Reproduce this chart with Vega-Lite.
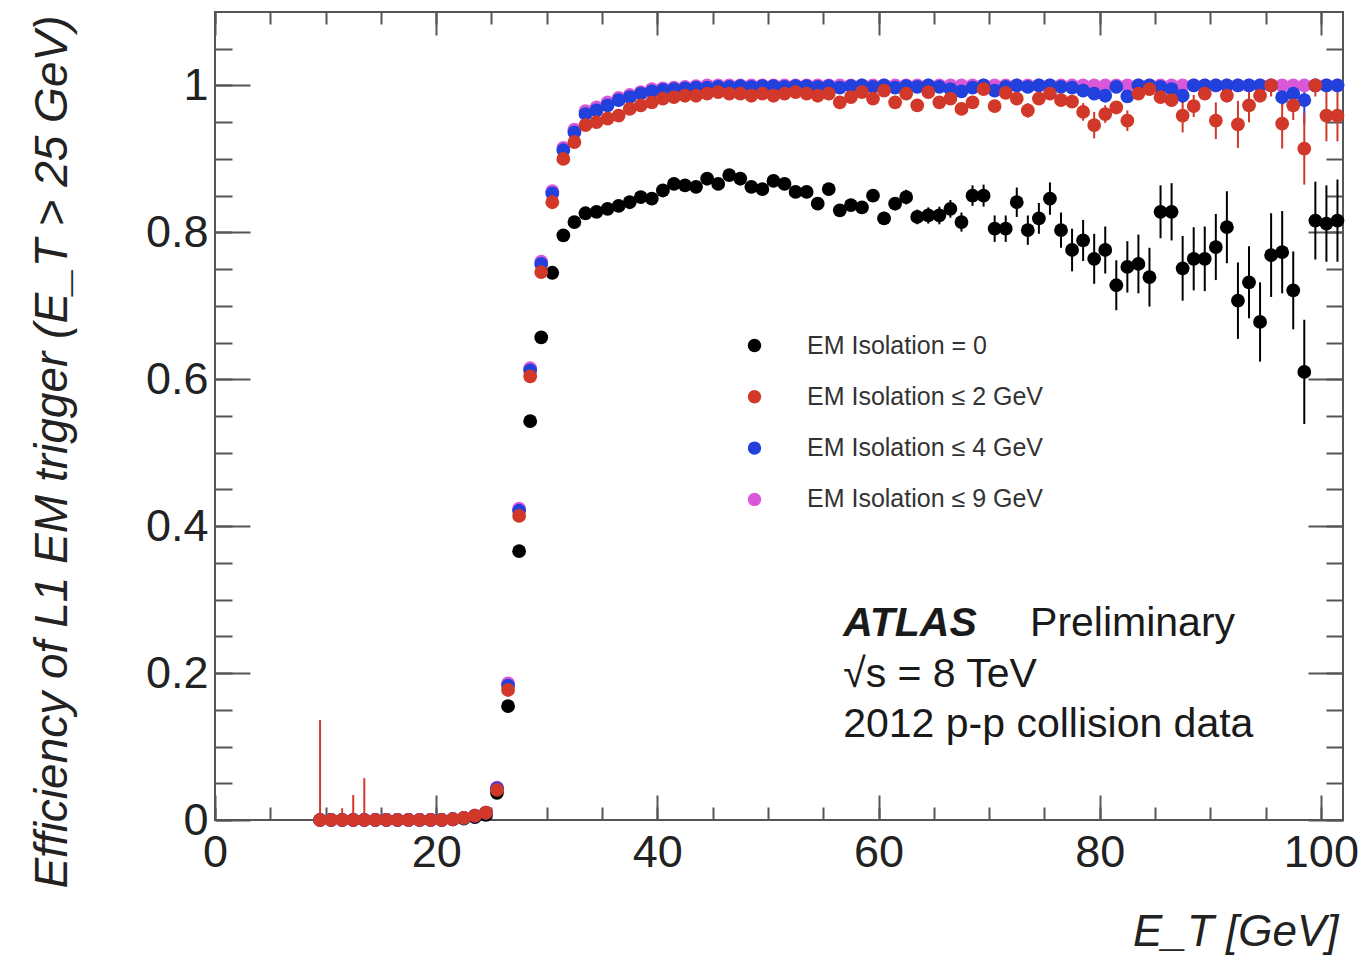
{
"$schema": "https://vega.github.io/schema/vega-lite/v6.json",
"width": 1128,
"height": 808,
"autosize": {"type": "none"},
"padding": {"left": 215, "top": 12, "right": 24, "bottom": 140},
"background": "white",
"config": {
  "view": {"stroke": "#555", "strokeWidth": 2},
  "axis": {"domain": false, "grid": false, "tickColor": "#555", "tickWidth": 2, "labelFont": "Liberation Sans", "labelFontSize": 45, "labelColor": "#222", "labelFlush": false, "labelOverlap": false, "titleFont": "Liberation Sans", "titleColor": "#222", "titleFontWeight": "normal", "titleFontStyle": "italic", "titleFontSize": 46}
},
"datasets": {
"pts": [
{"E":9.5,"eff":0,"s":"EM Isolation = 0"},{"E":10.5,"eff":0,"s":"EM Isolation = 0"},{"E":11.5,"eff":0,"s":"EM Isolation = 0"},{"E":12.5,"eff":0,"s":"EM Isolation = 0"},{"E":13.5,"eff":0,"s":"EM Isolation = 0"},{"E":14.5,"eff":0,"s":"EM Isolation = 0"},{"E":15.5,"eff":0,"s":"EM Isolation = 0"},{"E":16.5,"eff":0,"s":"EM Isolation = 0"},{"E":17.5,"eff":0,"s":"EM Isolation = 0"},{"E":18.5,"eff":0,"s":"EM Isolation = 0"},{"E":19.5,"eff":0,"s":"EM Isolation = 0"},{"E":20.5,"eff":0,"s":"EM Isolation = 0"},{"E":21.5,"eff":0.001,"s":"EM Isolation = 0"},{"E":22.5,"eff":0.002,"s":"EM Isolation = 0"},{"E":23.5,"eff":0.004,"s":"EM Isolation = 0"},{"E":24.5,"eff":0.007,"s":"EM Isolation = 0"},{"E":25.5,"eff":0.037,"s":"EM Isolation = 0"},{"E":26.5,"eff":0.155,"s":"EM Isolation = 0"},{"E":27.5,"eff":0.366,"s":"EM Isolation = 0"},{"E":28.5,"eff":0.543,"s":"EM Isolation = 0"},{"E":29.5,"eff":0.657,"s":"EM Isolation = 0"},{"E":30.5,"eff":0.745,"s":"EM Isolation = 0"},{"E":31.5,"eff":0.796,"s":"EM Isolation = 0"},{"E":32.5,"eff":0.814,"s":"EM Isolation = 0"},{"E":33.5,"eff":0.826,"s":"EM Isolation = 0"},{"E":34.5,"eff":0.828,"s":"EM Isolation = 0"},{"E":35.5,"eff":0.832,"s":"EM Isolation = 0"},{"E":36.5,"eff":0.836,"s":"EM Isolation = 0"},{"E":37.5,"eff":0.841,"s":"EM Isolation = 0"},{"E":38.5,"eff":0.848,"s":"EM Isolation = 0"},{"E":39.5,"eff":0.846,"s":"EM Isolation = 0"},{"E":40.5,"eff":0.857,"s":"EM Isolation = 0"},{"E":41.5,"eff":0.866,"s":"EM Isolation = 0"},{"E":42.5,"eff":0.864,"s":"EM Isolation = 0"},{"E":43.5,"eff":0.862,"s":"EM Isolation = 0"},{"E":44.5,"eff":0.873,"s":"EM Isolation = 0"},{"E":45.5,"eff":0.866,"s":"EM Isolation = 0"},{"E":46.5,"eff":0.878,"s":"EM Isolation = 0"},{"E":47.5,"eff":0.873,"s":"EM Isolation = 0"},{"E":48.5,"eff":0.862,"s":"EM Isolation = 0"},{"E":49.5,"eff":0.859,"s":"EM Isolation = 0"},{"E":50.5,"eff":0.87,"s":"EM Isolation = 0"},{"E":51.5,"eff":0.866,"s":"EM Isolation = 0"},{"E":52.5,"eff":0.855,"s":"EM Isolation = 0"},{"E":53.5,"eff":0.855,"s":"EM Isolation = 0"},{"E":54.5,"eff":0.839,"s":"EM Isolation = 0"},{"E":55.5,"eff":0.859,"s":"EM Isolation = 0"},{"E":56.5,"eff":0.83,"s":"EM Isolation = 0"},{"E":57.5,"eff":0.837,"s":"EM Isolation = 0"},{"E":58.5,"eff":0.834,"s":"EM Isolation = 0"},{"E":59.5,"eff":0.85,"s":"EM Isolation = 0"},{"E":60.5,"eff":0.819,"s":"EM Isolation = 0"},{"E":61.5,"eff":0.839,"s":"EM Isolation = 0"},{"E":62.5,"eff":0.848,"s":"EM Isolation = 0"},{"E":63.5,"eff":0.821,"s":"EM Isolation = 0"},{"E":64.5,"eff":0.823,"s":"EM Isolation = 0"},{"E":65.5,"eff":0.823,"s":"EM Isolation = 0"},{"E":66.5,"eff":0.832,"s":"EM Isolation = 0"},{"E":67.5,"eff":0.814,"s":"EM Isolation = 0"},{"E":68.5,"eff":0.85,"s":"EM Isolation = 0"},{"E":69.5,"eff":0.85,"s":"EM Isolation = 0"},{"E":70.5,"eff":0.805,"s":"EM Isolation = 0"},{"E":71.5,"eff":0.805,"s":"EM Isolation = 0"},{"E":72.5,"eff":0.841,"s":"EM Isolation = 0"},{"E":73.5,"eff":0.803,"s":"EM Isolation = 0"},{"E":74.5,"eff":0.819,"s":"EM Isolation = 0"},{"E":75.5,"eff":0.846,"s":"EM Isolation = 0"},{"E":76.5,"eff":0.803,"s":"EM Isolation = 0"},{"E":77.5,"eff":0.776,"s":"EM Isolation = 0"},{"E":78.5,"eff":0.789,"s":"EM Isolation = 0"},{"E":79.5,"eff":0.764,"s":"EM Isolation = 0"},{"E":80.5,"eff":0.776,"s":"EM Isolation = 0"},{"E":81.5,"eff":0.728,"s":"EM Isolation = 0"},{"E":82.5,"eff":0.753,"s":"EM Isolation = 0"},{"E":83.5,"eff":0.757,"s":"EM Isolation = 0"},{"E":84.5,"eff":0.739,"s":"EM Isolation = 0"},{"E":85.5,"eff":0.828,"s":"EM Isolation = 0"},{"E":86.5,"eff":0.828,"s":"EM Isolation = 0"},{"E":87.5,"eff":0.751,"s":"EM Isolation = 0"},{"E":88.5,"eff":0.764,"s":"EM Isolation = 0"},{"E":89.5,"eff":0.764,"s":"EM Isolation = 0"},{"E":90.5,"eff":0.78,"s":"EM Isolation = 0"},{"E":91.5,"eff":0.807,"s":"EM Isolation = 0"},{"E":92.5,"eff":0.707,"s":"EM Isolation = 0"},{"E":93.5,"eff":0.732,"s":"EM Isolation = 0"},{"E":94.5,"eff":0.678,"s":"EM Isolation = 0"},{"E":95.5,"eff":0.769,"s":"EM Isolation = 0"},{"E":96.5,"eff":0.773,"s":"EM Isolation = 0"},{"E":97.5,"eff":0.721,"s":"EM Isolation = 0"},{"E":98.5,"eff":0.61,"s":"EM Isolation = 0"},{"E":99.5,"eff":0.816,"s":"EM Isolation = 0"},{"E":100.5,"eff":0.812,"s":"EM Isolation = 0"},{"E":101.5,"eff":0.816,"s":"EM Isolation = 0"},
{"E":9.5,"eff":0,"s":"EM Isolation ≤ 9 GeV"},{"E":10.5,"eff":0,"s":"EM Isolation ≤ 9 GeV"},{"E":11.5,"eff":0,"s":"EM Isolation ≤ 9 GeV"},{"E":12.5,"eff":0,"s":"EM Isolation ≤ 9 GeV"},{"E":13.5,"eff":0,"s":"EM Isolation ≤ 9 GeV"},{"E":14.5,"eff":0,"s":"EM Isolation ≤ 9 GeV"},{"E":15.5,"eff":0,"s":"EM Isolation ≤ 9 GeV"},{"E":16.5,"eff":0,"s":"EM Isolation ≤ 9 GeV"},{"E":17.5,"eff":0,"s":"EM Isolation ≤ 9 GeV"},{"E":18.5,"eff":0,"s":"EM Isolation ≤ 9 GeV"},{"E":19.5,"eff":0,"s":"EM Isolation ≤ 9 GeV"},{"E":20.5,"eff":0,"s":"EM Isolation ≤ 9 GeV"},{"E":21.5,"eff":0.001,"s":"EM Isolation ≤ 9 GeV"},{"E":22.5,"eff":0.003,"s":"EM Isolation ≤ 9 GeV"},{"E":23.5,"eff":0.006,"s":"EM Isolation ≤ 9 GeV"},{"E":24.5,"eff":0.01,"s":"EM Isolation ≤ 9 GeV"},{"E":25.5,"eff":0.044,"s":"EM Isolation ≤ 9 GeV"},{"E":26.5,"eff":0.186,"s":"EM Isolation ≤ 9 GeV"},{"E":27.5,"eff":0.424,"s":"EM Isolation ≤ 9 GeV"},{"E":28.5,"eff":0.615,"s":"EM Isolation ≤ 9 GeV"},{"E":29.5,"eff":0.76,"s":"EM Isolation ≤ 9 GeV"},{"E":30.5,"eff":0.856,"s":"EM Isolation ≤ 9 GeV"},{"E":31.5,"eff":0.915,"s":"EM Isolation ≤ 9 GeV"},{"E":32.5,"eff":0.94,"s":"EM Isolation ≤ 9 GeV"},{"E":33.5,"eff":0.965,"s":"EM Isolation ≤ 9 GeV"},{"E":34.5,"eff":0.97,"s":"EM Isolation ≤ 9 GeV"},{"E":35.5,"eff":0.977,"s":"EM Isolation ≤ 9 GeV"},{"E":36.5,"eff":0.983,"s":"EM Isolation ≤ 9 GeV"},{"E":37.5,"eff":0.987,"s":"EM Isolation ≤ 9 GeV"},{"E":38.5,"eff":0.991,"s":"EM Isolation ≤ 9 GeV"},{"E":39.5,"eff":0.995,"s":"EM Isolation ≤ 9 GeV"},{"E":40.5,"eff":0.996,"s":"EM Isolation ≤ 9 GeV"},{"E":41.5,"eff":0.997,"s":"EM Isolation ≤ 9 GeV"},{"E":42.5,"eff":0.998,"s":"EM Isolation ≤ 9 GeV"},{"E":43.5,"eff":0.999,"s":"EM Isolation ≤ 9 GeV"},{"E":44.5,"eff":1,"s":"EM Isolation ≤ 9 GeV"},{"E":45.5,"eff":1,"s":"EM Isolation ≤ 9 GeV"},{"E":46.5,"eff":1,"s":"EM Isolation ≤ 9 GeV"},{"E":47.5,"eff":1,"s":"EM Isolation ≤ 9 GeV"},{"E":48.5,"eff":1,"s":"EM Isolation ≤ 9 GeV"},{"E":49.5,"eff":1,"s":"EM Isolation ≤ 9 GeV"},{"E":50.5,"eff":1,"s":"EM Isolation ≤ 9 GeV"},{"E":51.5,"eff":1,"s":"EM Isolation ≤ 9 GeV"},{"E":52.5,"eff":1,"s":"EM Isolation ≤ 9 GeV"},{"E":53.5,"eff":1,"s":"EM Isolation ≤ 9 GeV"},{"E":54.5,"eff":1,"s":"EM Isolation ≤ 9 GeV"},{"E":55.5,"eff":1,"s":"EM Isolation ≤ 9 GeV"},{"E":56.5,"eff":1,"s":"EM Isolation ≤ 9 GeV"},{"E":57.5,"eff":1,"s":"EM Isolation ≤ 9 GeV"},{"E":58.5,"eff":1,"s":"EM Isolation ≤ 9 GeV"},{"E":59.5,"eff":1,"s":"EM Isolation ≤ 9 GeV"},{"E":60.5,"eff":1,"s":"EM Isolation ≤ 9 GeV"},{"E":61.5,"eff":1,"s":"EM Isolation ≤ 9 GeV"},{"E":62.5,"eff":1,"s":"EM Isolation ≤ 9 GeV"},{"E":63.5,"eff":1,"s":"EM Isolation ≤ 9 GeV"},{"E":64.5,"eff":1,"s":"EM Isolation ≤ 9 GeV"},{"E":65.5,"eff":1,"s":"EM Isolation ≤ 9 GeV"},{"E":66.5,"eff":1,"s":"EM Isolation ≤ 9 GeV"},{"E":67.5,"eff":1,"s":"EM Isolation ≤ 9 GeV"},{"E":68.5,"eff":1,"s":"EM Isolation ≤ 9 GeV"},{"E":69.5,"eff":1,"s":"EM Isolation ≤ 9 GeV"},{"E":70.5,"eff":1,"s":"EM Isolation ≤ 9 GeV"},{"E":71.5,"eff":1,"s":"EM Isolation ≤ 9 GeV"},{"E":72.5,"eff":1,"s":"EM Isolation ≤ 9 GeV"},{"E":73.5,"eff":1,"s":"EM Isolation ≤ 9 GeV"},{"E":74.5,"eff":1,"s":"EM Isolation ≤ 9 GeV"},{"E":75.5,"eff":1,"s":"EM Isolation ≤ 9 GeV"},{"E":76.5,"eff":1,"s":"EM Isolation ≤ 9 GeV"},{"E":77.5,"eff":1,"s":"EM Isolation ≤ 9 GeV"},{"E":78.5,"eff":1,"s":"EM Isolation ≤ 9 GeV"},{"E":79.5,"eff":1,"s":"EM Isolation ≤ 9 GeV"},{"E":80.5,"eff":1,"s":"EM Isolation ≤ 9 GeV"},{"E":81.5,"eff":1,"s":"EM Isolation ≤ 9 GeV"},{"E":82.5,"eff":1,"s":"EM Isolation ≤ 9 GeV"},{"E":83.5,"eff":1,"s":"EM Isolation ≤ 9 GeV"},{"E":84.5,"eff":1,"s":"EM Isolation ≤ 9 GeV"},{"E":85.5,"eff":1,"s":"EM Isolation ≤ 9 GeV"},{"E":86.5,"eff":1,"s":"EM Isolation ≤ 9 GeV"},{"E":87.5,"eff":1,"s":"EM Isolation ≤ 9 GeV"},{"E":88.5,"eff":1,"s":"EM Isolation ≤ 9 GeV"},{"E":89.5,"eff":1,"s":"EM Isolation ≤ 9 GeV"},{"E":90.5,"eff":1,"s":"EM Isolation ≤ 9 GeV"},{"E":91.5,"eff":1,"s":"EM Isolation ≤ 9 GeV"},{"E":92.5,"eff":1,"s":"EM Isolation ≤ 9 GeV"},{"E":93.5,"eff":1,"s":"EM Isolation ≤ 9 GeV"},{"E":94.5,"eff":1,"s":"EM Isolation ≤ 9 GeV"},{"E":95.5,"eff":1,"s":"EM Isolation ≤ 9 GeV"},{"E":96.5,"eff":1,"s":"EM Isolation ≤ 9 GeV"},{"E":97.5,"eff":1,"s":"EM Isolation ≤ 9 GeV"},{"E":98.5,"eff":1,"s":"EM Isolation ≤ 9 GeV"},{"E":99.5,"eff":1,"s":"EM Isolation ≤ 9 GeV"},{"E":100.5,"eff":1,"s":"EM Isolation ≤ 9 GeV"},{"E":101.5,"eff":1,"s":"EM Isolation ≤ 9 GeV"},
{"E":9.5,"eff":0,"s":"EM Isolation ≤ 4 GeV"},{"E":10.5,"eff":0,"s":"EM Isolation ≤ 4 GeV"},{"E":11.5,"eff":0,"s":"EM Isolation ≤ 4 GeV"},{"E":12.5,"eff":0,"s":"EM Isolation ≤ 4 GeV"},{"E":13.5,"eff":0,"s":"EM Isolation ≤ 4 GeV"},{"E":14.5,"eff":0,"s":"EM Isolation ≤ 4 GeV"},{"E":15.5,"eff":0,"s":"EM Isolation ≤ 4 GeV"},{"E":16.5,"eff":0,"s":"EM Isolation ≤ 4 GeV"},{"E":17.5,"eff":0,"s":"EM Isolation ≤ 4 GeV"},{"E":18.5,"eff":0,"s":"EM Isolation ≤ 4 GeV"},{"E":19.5,"eff":0,"s":"EM Isolation ≤ 4 GeV"},{"E":20.5,"eff":0,"s":"EM Isolation ≤ 4 GeV"},{"E":21.5,"eff":0.001,"s":"EM Isolation ≤ 4 GeV"},{"E":22.5,"eff":0.003,"s":"EM Isolation ≤ 4 GeV"},{"E":23.5,"eff":0.006,"s":"EM Isolation ≤ 4 GeV"},{"E":24.5,"eff":0.01,"s":"EM Isolation ≤ 4 GeV"},{"E":25.5,"eff":0.043,"s":"EM Isolation ≤ 4 GeV"},{"E":26.5,"eff":0.183,"s":"EM Isolation ≤ 4 GeV"},{"E":27.5,"eff":0.421,"s":"EM Isolation ≤ 4 GeV"},{"E":28.5,"eff":0.612,"s":"EM Isolation ≤ 4 GeV"},{"E":29.5,"eff":0.757,"s":"EM Isolation ≤ 4 GeV"},{"E":30.5,"eff":0.853,"s":"EM Isolation ≤ 4 GeV"},{"E":31.5,"eff":0.912,"s":"EM Isolation ≤ 4 GeV"},{"E":32.5,"eff":0.936,"s":"EM Isolation ≤ 4 GeV"},{"E":33.5,"eff":0.961,"s":"EM Isolation ≤ 4 GeV"},{"E":34.5,"eff":0.966,"s":"EM Isolation ≤ 4 GeV"},{"E":35.5,"eff":0.973,"s":"EM Isolation ≤ 4 GeV"},{"E":36.5,"eff":0.98,"s":"EM Isolation ≤ 4 GeV"},{"E":37.5,"eff":0.984,"s":"EM Isolation ≤ 4 GeV"},{"E":38.5,"eff":0.989,"s":"EM Isolation ≤ 4 GeV"},{"E":39.5,"eff":0.992,"s":"EM Isolation ≤ 4 GeV"},{"E":40.5,"eff":0.994,"s":"EM Isolation ≤ 4 GeV"},{"E":41.5,"eff":0.995,"s":"EM Isolation ≤ 4 GeV"},{"E":42.5,"eff":0.996,"s":"EM Isolation ≤ 4 GeV"},{"E":43.5,"eff":0.997,"s":"EM Isolation ≤ 4 GeV"},{"E":44.5,"eff":0.997,"s":"EM Isolation ≤ 4 GeV"},{"E":45.5,"eff":0.998,"s":"EM Isolation ≤ 4 GeV"},{"E":46.5,"eff":0.998,"s":"EM Isolation ≤ 4 GeV"},{"E":47.5,"eff":0.999,"s":"EM Isolation ≤ 4 GeV"},{"E":48.5,"eff":0.998,"s":"EM Isolation ≤ 4 GeV"},{"E":49.5,"eff":0.999,"s":"EM Isolation ≤ 4 GeV"},{"E":50.5,"eff":0.999,"s":"EM Isolation ≤ 4 GeV"},{"E":51.5,"eff":0.998,"s":"EM Isolation ≤ 4 GeV"},{"E":52.5,"eff":0.999,"s":"EM Isolation ≤ 4 GeV"},{"E":53.5,"eff":0.999,"s":"EM Isolation ≤ 4 GeV"},{"E":54.5,"eff":0.998,"s":"EM Isolation ≤ 4 GeV"},{"E":55.5,"eff":0.999,"s":"EM Isolation ≤ 4 GeV"},{"E":56.5,"eff":0.997,"s":"EM Isolation ≤ 4 GeV"},{"E":57.5,"eff":0.999,"s":"EM Isolation ≤ 4 GeV"},{"E":58.5,"eff":1,"s":"EM Isolation ≤ 4 GeV"},{"E":59.5,"eff":0.998,"s":"EM Isolation ≤ 4 GeV"},{"E":60.5,"eff":1,"s":"EM Isolation ≤ 4 GeV"},{"E":61.5,"eff":0.997,"s":"EM Isolation ≤ 4 GeV"},{"E":62.5,"eff":0.999,"s":"EM Isolation ≤ 4 GeV"},{"E":63.5,"eff":0.998,"s":"EM Isolation ≤ 4 GeV"},{"E":64.5,"eff":1,"s":"EM Isolation ≤ 4 GeV"},{"E":65.5,"eff":0.998,"s":"EM Isolation ≤ 4 GeV"},{"E":66.5,"eff":0.995,"s":"EM Isolation ≤ 4 GeV"},{"E":67.5,"eff":0.992,"s":"EM Isolation ≤ 4 GeV"},{"E":68.5,"eff":0.997,"s":"EM Isolation ≤ 4 GeV"},{"E":69.5,"eff":1,"s":"EM Isolation ≤ 4 GeV"},{"E":70.5,"eff":0.993,"s":"EM Isolation ≤ 4 GeV"},{"E":71.5,"eff":0.998,"s":"EM Isolation ≤ 4 GeV"},{"E":72.5,"eff":1,"s":"EM Isolation ≤ 4 GeV"},{"E":73.5,"eff":0.998,"s":"EM Isolation ≤ 4 GeV"},{"E":74.5,"eff":1,"s":"EM Isolation ≤ 4 GeV"},{"E":75.5,"eff":1,"s":"EM Isolation ≤ 4 GeV"},{"E":76.5,"eff":0.998,"s":"EM Isolation ≤ 4 GeV"},{"E":77.5,"eff":0.997,"s":"EM Isolation ≤ 4 GeV"},{"E":78.5,"eff":0.993,"s":"EM Isolation ≤ 4 GeV"},{"E":79.5,"eff":0.989,"s":"EM Isolation ≤ 4 GeV"},{"E":80.5,"eff":0.986,"s":"EM Isolation ≤ 4 GeV"},{"E":81.5,"eff":0.998,"s":"EM Isolation ≤ 4 GeV"},{"E":82.5,"eff":0.985,"s":"EM Isolation ≤ 4 GeV"},{"E":83.5,"eff":1,"s":"EM Isolation ≤ 4 GeV"},{"E":84.5,"eff":1,"s":"EM Isolation ≤ 4 GeV"},{"E":85.5,"eff":0.998,"s":"EM Isolation ≤ 4 GeV"},{"E":86.5,"eff":0.995,"s":"EM Isolation ≤ 4 GeV"},{"E":87.5,"eff":0.986,"s":"EM Isolation ≤ 4 GeV"},{"E":88.5,"eff":1,"s":"EM Isolation ≤ 4 GeV"},{"E":89.5,"eff":1,"s":"EM Isolation ≤ 4 GeV"},{"E":90.5,"eff":1,"s":"EM Isolation ≤ 4 GeV"},{"E":91.5,"eff":1,"s":"EM Isolation ≤ 4 GeV"},{"E":92.5,"eff":1,"s":"EM Isolation ≤ 4 GeV"},{"E":93.5,"eff":1,"s":"EM Isolation ≤ 4 GeV"},{"E":94.5,"eff":1,"s":"EM Isolation ≤ 4 GeV"},{"E":95.5,"eff":1,"s":"EM Isolation ≤ 4 GeV"},{"E":96.5,"eff":0.984,"s":"EM Isolation ≤ 4 GeV"},{"E":97.5,"eff":0.989,"s":"EM Isolation ≤ 4 GeV"},{"E":98.5,"eff":0.98,"s":"EM Isolation ≤ 4 GeV"},{"E":99.5,"eff":1,"s":"EM Isolation ≤ 4 GeV"},{"E":100.5,"eff":1,"s":"EM Isolation ≤ 4 GeV"},{"E":101.5,"eff":1,"s":"EM Isolation ≤ 4 GeV"},
{"E":9.5,"eff":0,"s":"EM Isolation ≤ 2 GeV"},{"E":10.5,"eff":0,"s":"EM Isolation ≤ 2 GeV"},{"E":11.5,"eff":0,"s":"EM Isolation ≤ 2 GeV"},{"E":12.5,"eff":0,"s":"EM Isolation ≤ 2 GeV"},{"E":13.5,"eff":0,"s":"EM Isolation ≤ 2 GeV"},{"E":14.5,"eff":0,"s":"EM Isolation ≤ 2 GeV"},{"E":15.5,"eff":0,"s":"EM Isolation ≤ 2 GeV"},{"E":16.5,"eff":0,"s":"EM Isolation ≤ 2 GeV"},{"E":17.5,"eff":0,"s":"EM Isolation ≤ 2 GeV"},{"E":18.5,"eff":0,"s":"EM Isolation ≤ 2 GeV"},{"E":19.5,"eff":0,"s":"EM Isolation ≤ 2 GeV"},{"E":20.5,"eff":0,"s":"EM Isolation ≤ 2 GeV"},{"E":21.5,"eff":0.001,"s":"EM Isolation ≤ 2 GeV"},{"E":22.5,"eff":0.003,"s":"EM Isolation ≤ 2 GeV"},{"E":23.5,"eff":0.006,"s":"EM Isolation ≤ 2 GeV"},{"E":24.5,"eff":0.01,"s":"EM Isolation ≤ 2 GeV"},{"E":25.5,"eff":0.041,"s":"EM Isolation ≤ 2 GeV"},{"E":26.5,"eff":0.177,"s":"EM Isolation ≤ 2 GeV"},{"E":27.5,"eff":0.414,"s":"EM Isolation ≤ 2 GeV"},{"E":28.5,"eff":0.604,"s":"EM Isolation ≤ 2 GeV"},{"E":29.5,"eff":0.746,"s":"EM Isolation ≤ 2 GeV"},{"E":30.5,"eff":0.841,"s":"EM Isolation ≤ 2 GeV"},{"E":31.5,"eff":0.9,"s":"EM Isolation ≤ 2 GeV"},{"E":32.5,"eff":0.923,"s":"EM Isolation ≤ 2 GeV"},{"E":33.5,"eff":0.946,"s":"EM Isolation ≤ 2 GeV"},{"E":34.5,"eff":0.95,"s":"EM Isolation ≤ 2 GeV"},{"E":35.5,"eff":0.955,"s":"EM Isolation ≤ 2 GeV"},{"E":36.5,"eff":0.959,"s":"EM Isolation ≤ 2 GeV"},{"E":37.5,"eff":0.968,"s":"EM Isolation ≤ 2 GeV"},{"E":38.5,"eff":0.973,"s":"EM Isolation ≤ 2 GeV"},{"E":39.5,"eff":0.977,"s":"EM Isolation ≤ 2 GeV"},{"E":40.5,"eff":0.982,"s":"EM Isolation ≤ 2 GeV"},{"E":41.5,"eff":0.984,"s":"EM Isolation ≤ 2 GeV"},{"E":42.5,"eff":0.986,"s":"EM Isolation ≤ 2 GeV"},{"E":43.5,"eff":0.986,"s":"EM Isolation ≤ 2 GeV"},{"E":44.5,"eff":0.989,"s":"EM Isolation ≤ 2 GeV"},{"E":45.5,"eff":0.991,"s":"EM Isolation ≤ 2 GeV"},{"E":46.5,"eff":0.989,"s":"EM Isolation ≤ 2 GeV"},{"E":47.5,"eff":0.989,"s":"EM Isolation ≤ 2 GeV"},{"E":48.5,"eff":0.986,"s":"EM Isolation ≤ 2 GeV"},{"E":49.5,"eff":0.989,"s":"EM Isolation ≤ 2 GeV"},{"E":50.5,"eff":0.986,"s":"EM Isolation ≤ 2 GeV"},{"E":51.5,"eff":0.989,"s":"EM Isolation ≤ 2 GeV"},{"E":52.5,"eff":0.991,"s":"EM Isolation ≤ 2 GeV"},{"E":53.5,"eff":0.989,"s":"EM Isolation ≤ 2 GeV"},{"E":54.5,"eff":0.986,"s":"EM Isolation ≤ 2 GeV"},{"E":55.5,"eff":0.989,"s":"EM Isolation ≤ 2 GeV"},{"E":56.5,"eff":0.977,"s":"EM Isolation ≤ 2 GeV"},{"E":57.5,"eff":0.984,"s":"EM Isolation ≤ 2 GeV"},{"E":58.5,"eff":0.991,"s":"EM Isolation ≤ 2 GeV"},{"E":59.5,"eff":0.982,"s":"EM Isolation ≤ 2 GeV"},{"E":60.5,"eff":0.993,"s":"EM Isolation ≤ 2 GeV"},{"E":61.5,"eff":0.977,"s":"EM Isolation ≤ 2 GeV"},{"E":62.5,"eff":0.989,"s":"EM Isolation ≤ 2 GeV"},{"E":63.5,"eff":0.973,"s":"EM Isolation ≤ 2 GeV"},{"E":64.5,"eff":0.991,"s":"EM Isolation ≤ 2 GeV"},{"E":65.5,"eff":0.977,"s":"EM Isolation ≤ 2 GeV"},{"E":66.5,"eff":0.982,"s":"EM Isolation ≤ 2 GeV"},{"E":67.5,"eff":0.968,"s":"EM Isolation ≤ 2 GeV"},{"E":68.5,"eff":0.977,"s":"EM Isolation ≤ 2 GeV"},{"E":69.5,"eff":0.995,"s":"EM Isolation ≤ 2 GeV"},{"E":70.5,"eff":0.972,"s":"EM Isolation ≤ 2 GeV"},{"E":71.5,"eff":0.99,"s":"EM Isolation ≤ 2 GeV"},{"E":72.5,"eff":0.982,"s":"EM Isolation ≤ 2 GeV"},{"E":73.5,"eff":0.966,"s":"EM Isolation ≤ 2 GeV"},{"E":74.5,"eff":0.982,"s":"EM Isolation ≤ 2 GeV"},{"E":75.5,"eff":0.989,"s":"EM Isolation ≤ 2 GeV"},{"E":76.5,"eff":0.98,"s":"EM Isolation ≤ 2 GeV"},{"E":77.5,"eff":0.978,"s":"EM Isolation ≤ 2 GeV"},{"E":78.5,"eff":0.964,"s":"EM Isolation ≤ 2 GeV"},{"E":79.5,"eff":0.946,"s":"EM Isolation ≤ 2 GeV"},{"E":80.5,"eff":0.961,"s":"EM Isolation ≤ 2 GeV"},{"E":81.5,"eff":0.97,"s":"EM Isolation ≤ 2 GeV"},{"E":82.5,"eff":0.952,"s":"EM Isolation ≤ 2 GeV"},{"E":83.5,"eff":0.989,"s":"EM Isolation ≤ 2 GeV"},{"E":84.5,"eff":0.995,"s":"EM Isolation ≤ 2 GeV"},{"E":85.5,"eff":0.984,"s":"EM Isolation ≤ 2 GeV"},{"E":86.5,"eff":0.98,"s":"EM Isolation ≤ 2 GeV"},{"E":87.5,"eff":0.959,"s":"EM Isolation ≤ 2 GeV"},{"E":88.5,"eff":0.972,"s":"EM Isolation ≤ 2 GeV"},{"E":89.5,"eff":0.989,"s":"EM Isolation ≤ 2 GeV"},{"E":90.5,"eff":0.952,"s":"EM Isolation ≤ 2 GeV"},{"E":91.5,"eff":0.986,"s":"EM Isolation ≤ 2 GeV"},{"E":92.5,"eff":0.947,"s":"EM Isolation ≤ 2 GeV"},{"E":93.5,"eff":0.973,"s":"EM Isolation ≤ 2 GeV"},{"E":94.5,"eff":0.986,"s":"EM Isolation ≤ 2 GeV"},{"E":95.5,"eff":1,"s":"EM Isolation ≤ 2 GeV"},{"E":96.5,"eff":0.948,"s":"EM Isolation ≤ 2 GeV"},{"E":97.5,"eff":0.973,"s":"EM Isolation ≤ 2 GeV"},{"E":98.5,"eff":0.914,"s":"EM Isolation ≤ 2 GeV"},{"E":99.5,"eff":1,"s":"EM Isolation ≤ 2 GeV"},{"E":100.5,"eff":0.959,"s":"EM Isolation ≤ 2 GeV"},{"E":101.5,"eff":0.959,"s":"EM Isolation ≤ 2 GeV"}
],
"errs": [
{"E":60.5,"lo":0.81,"hi":0.828,"s":"EM Isolation = 0"},{"E":61.5,"lo":0.83,"hi":0.848,"s":"EM Isolation = 0"},{"E":62.5,"lo":0.838,"hi":0.858,"s":"EM Isolation = 0"},{"E":63.5,"lo":0.811,"hi":0.831,"s":"EM Isolation = 0"},{"E":64.5,"lo":0.812,"hi":0.834,"s":"EM Isolation = 0"},{"E":65.5,"lo":0.811,"hi":0.835,"s":"EM Isolation = 0"},{"E":66.5,"lo":0.82,"hi":0.844,"s":"EM Isolation = 0"},{"E":67.5,"lo":0.801,"hi":0.827,"s":"EM Isolation = 0"},{"E":68.5,"lo":0.836,"hi":0.864,"s":"EM Isolation = 0"},{"E":69.5,"lo":0.835,"hi":0.865,"s":"EM Isolation = 0"},{"E":70.5,"lo":0.787,"hi":0.823,"s":"EM Isolation = 0"},{"E":71.5,"lo":0.787,"hi":0.823,"s":"EM Isolation = 0"},{"E":72.5,"lo":0.821,"hi":0.861,"s":"EM Isolation = 0"},{"E":73.5,"lo":0.783,"hi":0.823,"s":"EM Isolation = 0"},{"E":74.5,"lo":0.798,"hi":0.84,"s":"EM Isolation = 0"},{"E":75.5,"lo":0.824,"hi":0.868,"s":"EM Isolation = 0"},{"E":76.5,"lo":0.779,"hi":0.827,"s":"EM Isolation = 0"},{"E":77.5,"lo":0.747,"hi":0.805,"s":"EM Isolation = 0"},{"E":78.5,"lo":0.761,"hi":0.817,"s":"EM Isolation = 0"},{"E":79.5,"lo":0.73,"hi":0.798,"s":"EM Isolation = 0"},{"E":80.5,"lo":0.744,"hi":0.808,"s":"EM Isolation = 0"},{"E":81.5,"lo":0.694,"hi":0.762,"s":"EM Isolation = 0"},{"E":82.5,"lo":0.718,"hi":0.788,"s":"EM Isolation = 0"},{"E":83.5,"lo":0.717,"hi":0.797,"s":"EM Isolation = 0"},{"E":84.5,"lo":0.699,"hi":0.779,"s":"EM Isolation = 0"},{"E":85.5,"lo":0.792,"hi":0.864,"s":"EM Isolation = 0"},{"E":86.5,"lo":0.789,"hi":0.867,"s":"EM Isolation = 0"},{"E":87.5,"lo":0.707,"hi":0.795,"s":"EM Isolation = 0"},{"E":88.5,"lo":0.721,"hi":0.807,"s":"EM Isolation = 0"},{"E":89.5,"lo":0.72,"hi":0.808,"s":"EM Isolation = 0"},{"E":90.5,"lo":0.735,"hi":0.825,"s":"EM Isolation = 0"},{"E":91.5,"lo":0.758,"hi":0.856,"s":"EM Isolation = 0"},{"E":92.5,"lo":0.655,"hi":0.759,"s":"EM Isolation = 0"},{"E":93.5,"lo":0.683,"hi":0.781,"s":"EM Isolation = 0"},{"E":94.5,"lo":0.624,"hi":0.732,"s":"EM Isolation = 0"},{"E":95.5,"lo":0.712,"hi":0.826,"s":"EM Isolation = 0"},{"E":96.5,"lo":0.717,"hi":0.829,"s":"EM Isolation = 0"},{"E":97.5,"lo":0.668,"hi":0.774,"s":"EM Isolation = 0"},{"E":98.5,"lo":0.539,"hi":0.681,"s":"EM Isolation = 0"},{"E":99.5,"lo":0.763,"hi":0.869,"s":"EM Isolation = 0"},{"E":100.5,"lo":0.76,"hi":0.864,"s":"EM Isolation = 0"},{"E":101.5,"lo":0.76,"hi":0.872,"s":"EM Isolation = 0"},
{"E":87.5,"lo":0.976,"hi":0.996,"s":"EM Isolation ≤ 4 GeV"},{"E":96.5,"lo":0.972,"hi":0.996,"s":"EM Isolation ≤ 4 GeV"},{"E":98.5,"lo":0.948,"hi":1,"s":"EM Isolation ≤ 4 GeV"},
{"E":9.5,"lo":0,"hi":0.136,"s":"EM Isolation ≤ 2 GeV"},{"E":11.5,"lo":0,"hi":0.016,"s":"EM Isolation ≤ 2 GeV"},{"E":12.5,"lo":0,"hi":0.034,"s":"EM Isolation ≤ 2 GeV"},{"E":13.5,"lo":0,"hi":0.057,"s":"EM Isolation ≤ 2 GeV"},{"E":73.5,"lo":0.956,"hi":0.976,"s":"EM Isolation ≤ 2 GeV"},{"E":78.5,"lo":0.952,"hi":0.976,"s":"EM Isolation ≤ 2 GeV"},{"E":79.5,"lo":0.928,"hi":0.964,"s":"EM Isolation ≤ 2 GeV"},{"E":80.5,"lo":0.949,"hi":0.973,"s":"EM Isolation ≤ 2 GeV"},{"E":82.5,"lo":0.938,"hi":0.966,"s":"EM Isolation ≤ 2 GeV"},{"E":87.5,"lo":0.936,"hi":0.982,"s":"EM Isolation ≤ 2 GeV"},{"E":88.5,"lo":0.957,"hi":0.987,"s":"EM Isolation ≤ 2 GeV"},{"E":90.5,"lo":0.927,"hi":0.977,"s":"EM Isolation ≤ 2 GeV"},{"E":92.5,"lo":0.915,"hi":0.979,"s":"EM Isolation ≤ 2 GeV"},{"E":93.5,"lo":0.95,"hi":0.996,"s":"EM Isolation ≤ 2 GeV"},{"E":95.5,"lo":0.985,"hi":1,"s":"EM Isolation ≤ 2 GeV"},{"E":96.5,"lo":0.914,"hi":0.982,"s":"EM Isolation ≤ 2 GeV"},{"E":97.5,"lo":0.953,"hi":0.993,"s":"EM Isolation ≤ 2 GeV"},{"E":98.5,"lo":0.865,"hi":0.963,"s":"EM Isolation ≤ 2 GeV"},{"E":99.5,"lo":0.985,"hi":1,"s":"EM Isolation ≤ 2 GeV"},{"E":100.5,"lo":0.924,"hi":0.994,"s":"EM Isolation ≤ 2 GeV"},{"E":101.5,"lo":0.924,"hi":0.994,"s":"EM Isolation ≤ 2 GeV"}
]
},
"layer": [
{
  "data": {"name": "errs"},
  "mark": {"type": "rule", "strokeWidth": 2},
  "encoding": {
    "x": {"field": "E", "type": "quantitative", "scale": {"domain": [0, 102], "nice": false, "zero": false},
      "axis": {"orient": "bottom", "values": [0, 20, 40, 60, 80, 100], "tickSize": -25, "labelPadding": 35, "title": "E_T [GeV]", "titleFontSize": 44, "titleAlign": "right", "titleAnchor": "end", "titleBaseline": "alphabetic", "titleX": 1123, "titleY": 125}},
    "y": {"field": "lo", "type": "quantitative", "scale": {"domain": [0, 1.1], "nice": false, "zero": false},
      "axis": {"orient": "left", "values": [0, 0.2, 0.4, 0.6, 0.8, 1], "format": "~g", "tickSize": -35, "labelPadding": 42, "title": "Efficiency of L1 EM trigger (E_T > 25 GeV)", "titleAngle": -90, "titleAlign": "right", "titleAnchor": "end", "titleBaseline": "alphabetic", "titleX": -149, "titleY": 3}},
    "y2": {"field": "hi"},
    "color": {"field": "s", "type": "nominal", "scale": {"domain": ["EM Isolation = 0", "EM Isolation ≤ 2 GeV", "EM Isolation ≤ 4 GeV", "EM Isolation ≤ 9 GeV"], "range": ["#000000", "#d2382a", "#2140dc", "#d957d9"]}, "legend": null}
  }
},
{
  "data": {"name": "pts"},
  "mark": {"type": "point", "filled": true, "size": 190, "opacity": 1, "strokeWidth": 0},
  "encoding": {
    "x": {"field": "E", "type": "quantitative", "scale": {"domain": [0, 102], "nice": false, "zero": false},
      "axis": {"orient": "bottom", "values": [0, 5, 10, 15, 20, 25, 30, 35, 40, 45, 50, 55, 60, 65, 70, 75, 80, 85, 90, 95, 100], "tickSize": -13, "labels": false, "title": null}},
    "y": {"field": "eff", "type": "quantitative", "scale": {"domain": [0, 1.1], "nice": false, "zero": false},
      "axis": {"orient": "left", "values": [0, 0.05, 0.1, 0.15, 0.2, 0.25, 0.3, 0.35, 0.4, 0.45, 0.5, 0.55, 0.6, 0.65, 0.7, 0.75, 0.8, 0.85, 0.9, 0.95, 1, 1.05], "tickSize": -17, "labels": false, "title": null}},
    "color": {"field": "s", "type": "nominal", "scale": {"domain": ["EM Isolation = 0", "EM Isolation ≤ 2 GeV", "EM Isolation ≤ 4 GeV", "EM Isolation ≤ 9 GeV"], "range": ["#000000", "#d2382a", "#2140dc", "#d957d9"]},
      "legend": {"title": null, "orient": "none", "legendX": 527, "legendY": 321, "padding": 0, "symbolType": "circle", "symbolSize": 180, "symbolStrokeWidth": 0, "symbolOpacity": 1, "labelOffset": 40, "rowPadding": 25.3, "labelFont": "Liberation Sans", "labelFontSize": 25, "labelColor": "#333", "labelLimit": 400}}
  }
},
{
  "data": {"name": "pts"},
  "transform": [{"filter": "false"}],
  "mark": "point",
  "encoding": {
    "x": {"field": "E", "type": "quantitative", "scale": {"domain": [0, 102], "nice": false, "zero": false},
      "axis": {"orient": "top", "values": [0, 20, 40, 60, 80, 100], "tickSize": -23, "labels": false, "title": null}},
    "y": {"field": "eff", "type": "quantitative", "scale": {"domain": [0, 1.1], "nice": false, "zero": false},
      "axis": {"orient": "right", "values": [0, 0.2, 0.4, 0.6, 0.8, 1], "tickSize": -35, "labels": false, "title": null}}
  }
},
{
  "data": {"name": "pts"},
  "transform": [{"filter": "false"}],
  "mark": "point",
  "encoding": {
    "x": {"field": "E", "type": "quantitative", "scale": {"domain": [0, 102], "nice": false, "zero": false},
      "axis": {"orient": "top", "values": [0, 5, 10, 15, 20, 25, 30, 35, 40, 45, 50, 55, 60, 65, 70, 75, 80, 85, 90, 95, 100], "tickSize": -12, "labels": false, "title": null}},
    "y": {"field": "eff", "type": "quantitative", "scale": {"domain": [0, 1.1], "nice": false, "zero": false},
      "axis": {"orient": "right", "values": [0, 0.05, 0.1, 0.15, 0.2, 0.25, 0.3, 0.35, 0.4, 0.45, 0.5, 0.55, 0.6, 0.65, 0.7, 0.75, 0.8, 0.85, 0.9, 0.95, 1, 1.05], "tickSize": -17, "labels": false, "title": null}}
  }
},
{
  "data": {"values": [{}]},
  "mark": {"type": "text", "text": "ATLAS", "font": "Liberation Sans", "fontSize": 41, "fontWeight": "bold", "fontStyle": "italic", "align": "left", "baseline": "alphabetic", "color": "#1a1a1a"},
  "encoding": {
    "x": {"datum": 56.8, "type": "quantitative", "scale": {"domain": [0, 102], "nice": false, "zero": false}, "axis": null},
    "y": {"datum": 0.2505, "type": "quantitative", "scale": {"domain": [0, 1.1], "nice": false, "zero": false}, "axis": null}
  }
},
{
  "data": {"values": [{}]},
  "mark": {"type": "text", "text": "Preliminary", "font": "Liberation Sans", "fontSize": 41, "align": "left", "baseline": "alphabetic", "color": "#1a1a1a"},
  "encoding": {
    "x": {"datum": 73.7, "type": "quantitative", "scale": {"domain": [0, 102], "nice": false, "zero": false}, "axis": null},
    "y": {"datum": 0.2505, "type": "quantitative", "scale": {"domain": [0, 1.1], "nice": false, "zero": false}, "axis": null}
  }
},
{
  "data": {"values": [{}]},
  "mark": {"type": "text", "text": "√s = 8 TeV", "font": "Liberation Sans", "fontSize": 41, "align": "left", "baseline": "alphabetic", "color": "#1a1a1a"},
  "encoding": {
    "x": {"datum": 56.8, "type": "quantitative", "scale": {"domain": [0, 102], "nice": false, "zero": false}, "axis": null},
    "y": {"datum": 0.181, "type": "quantitative", "scale": {"domain": [0, 1.1], "nice": false, "zero": false}, "axis": null}
  }
},
{
  "data": {"values": [{}]},
  "mark": {"type": "text", "text": "2012 p-p collision data", "font": "Liberation Sans", "fontSize": 41, "align": "left", "baseline": "alphabetic", "color": "#1a1a1a"},
  "encoding": {
    "x": {"datum": 56.8, "type": "quantitative", "scale": {"domain": [0, 102], "nice": false, "zero": false}, "axis": null},
    "y": {"datum": 0.113, "type": "quantitative", "scale": {"domain": [0, 1.1], "nice": false, "zero": false}, "axis": null}
  }
}
],
"resolve": {"axis": {"x": "independent", "y": "independent"}, "legend": {"color": "independent"}}
}
